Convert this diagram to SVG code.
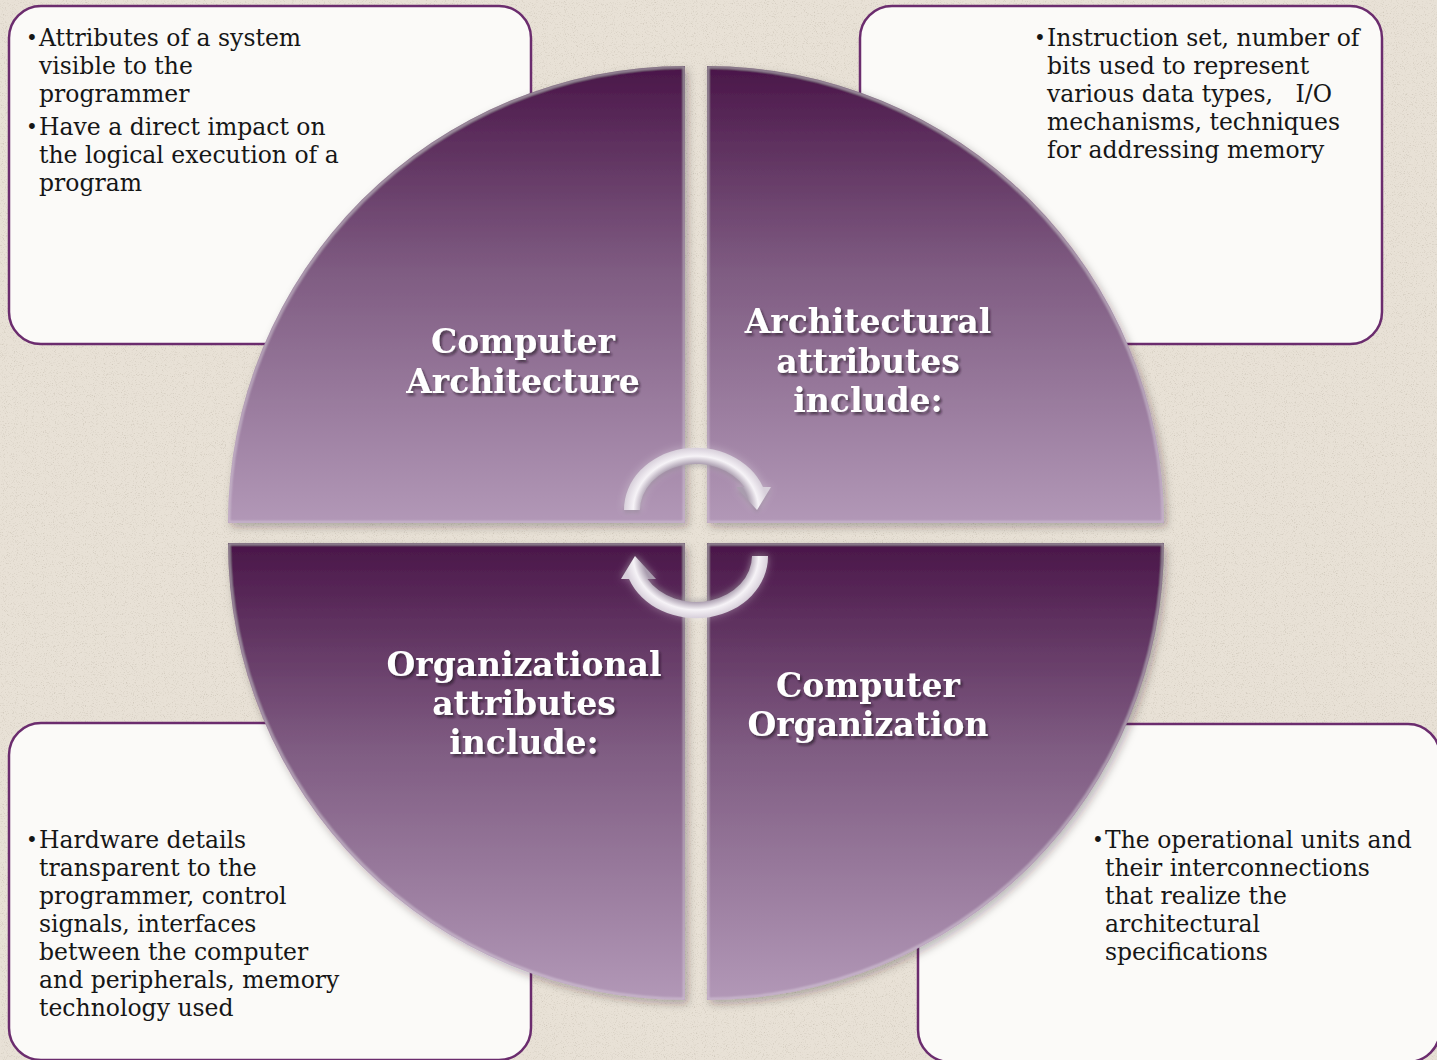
<svg xmlns="http://www.w3.org/2000/svg" width="1437" height="1060" viewBox="0 0 1437 1060">
<style>
.box{fill:#fbfaf8;stroke:#6b2c6e;stroke-width:2.5}
.body{font-family:"DejaVu Serif","Liberation Serif",serif;font-size:23.5px;fill:#161616}
.bul{font-family:"DejaVu Serif","Liberation Serif",serif;font-size:20px;fill:#161616}
.title{font-family:"DejaVu Serif","Liberation Serif",serif;font-weight:bold;font-size:33px;fill:#ffffff;text-anchor:middle;filter:url(#ts)}
.quad{filter:url(#pieFx)}
.arrow{fill:url(#arrowGrad);filter:url(#arrowFx)}
</style>
<defs>
<filter id="noise" x="0" y="0" width="100%" height="100%">
<feTurbulence type="fractalNoise" baseFrequency="0.9" numOctaves="2" seed="7" result="n"/>
<feColorMatrix in="n" type="matrix" values="0 0 0 0 0.55  0 0 0 0 0.5  0 0 0 0 0.42  3.2 0 0 0 -1.75"/>
</filter>
<linearGradient id="qGrad" x1="0" y1="0" x2="0" y2="1">
<stop offset="0" stop-color="#4a1649"/>
<stop offset="0.45" stop-color="#7f5c82"/>
<stop offset="1" stop-color="#b298b7"/>
</linearGradient>
<filter id="pieFx" x="-10%" y="-10%" width="125%" height="125%">
<feGaussianBlur in="SourceAlpha" stdDeviation="4" result="blur"/>
<feOffset in="blur" dx="3" dy="4" result="ob"/>
<feFlood flood-color="#2a1a20" flood-opacity="0.3"/>
<feComposite in2="ob" operator="in" result="shadow"/>
<feMorphology in="SourceAlpha" operator="erode" radius="2" result="er"/>
<feComposite in="SourceAlpha" in2="er" operator="out" result="rim"/>
<feGaussianBlur in="rim" stdDeviation="1" result="rimb"/>
<feFlood flood-color="#f6eef8" flood-opacity="0.35"/>
<feComposite in2="rimb" operator="in" result="hl"/>
<feComposite in="hl" in2="SourceAlpha" operator="in" result="hl2"/>
<feMerge><feMergeNode in="shadow"/><feMergeNode in="SourceGraphic"/><feMergeNode in="hl2"/></feMerge>
</filter>
<filter id="ts" x="-10%" y="-30%" width="120%" height="160%">
<feDropShadow dx="2" dy="2.5" stdDeviation="1.2" flood-color="#1a0a1a" flood-opacity="0.6"/>
</filter>
<radialGradient id="arrowGrad" gradientUnits="userSpaceOnUse" cx="0" cy="0" r="72" gradientTransform="translate(696 510) scale(1 0.86)">
<stop offset="0.74" stop-color="#a99cae"/>
<stop offset="0.87" stop-color="#f6f3f7"/>
<stop offset="1" stop-color="#d8d0db"/>
</radialGradient>
<filter id="arrowFx" x="-20%" y="-20%" width="140%" height="150%">
<feGaussianBlur in="SourceAlpha" stdDeviation="4" result="b"/>
<feFlood flood-color="#ffffff" flood-opacity="0.35"/>
<feComposite in2="b" operator="in" result="glow"/>
<feGaussianBlur in="SourceAlpha" stdDeviation="2" result="b2"/>
<feOffset in="b2" dx="0" dy="3" result="o2"/>
<feFlood flood-color="#2a1430" flood-opacity="0.3"/>
<feComposite in2="o2" operator="in" result="sh"/>
<feMerge><feMergeNode in="glow"/><feMergeNode in="sh"/><feMergeNode in="SourceGraphic"/></feMerge>
</filter>
<path id="arc" d="M624,510 A72,62 0 0 1 763,487 L771,487 L757,510 L736,487 L744.5,487 A56,46 0 0 0 640,510 Z"/>
</defs>

<rect width="1437" height="1060" fill="#e8e1d6"/>
<rect width="1437" height="1060" filter="url(#noise)" opacity="0.6"/>

<g id="box-tl">
<rect class="box" x="9" y="6" width="522" height="338" rx="32"/>
<text class="bul" x="26" y="45">•</text>
<text class="body" x="39" y="46">Attributes of a system</text>
<text class="body" x="39" y="74">visible to the</text>
<text class="body" x="39" y="102">programmer</text>
<text class="bul" x="26" y="134">•</text>
<text class="body" x="39" y="135">Have a direct impact on</text>
<text class="body" x="39" y="163">the logical execution of a</text>
<text class="body" x="39" y="191">program</text>
</g>

<g id="box-tr">
<rect class="box" x="860" y="6" width="522" height="338" rx="32"/>
<text class="bul" x="1034" y="45">•</text>
<text class="body" x="1047" y="46">Instruction set, number of</text>
<text class="body" x="1047" y="74">bits used to represent</text>
<text class="body" x="1047" y="102" xml:space="preserve">various data types,   I/O</text>
<text class="body" x="1047" y="130">mechanisms, techniques</text>
<text class="body" x="1047" y="158">for addressing memory</text>
</g>

<g id="box-bl">
<rect class="box" x="9" y="723" width="522" height="337" rx="32"/>
<text class="bul" x="26" y="847">•</text>
<text class="body" x="39" y="848">Hardware details</text>
<text class="body" x="39" y="876">transparent to the</text>
<text class="body" x="39" y="904">programmer, control</text>
<text class="body" x="39" y="932">signals, interfaces</text>
<text class="body" x="39" y="960">between the computer</text>
<text class="body" x="39" y="988">and peripherals, memory</text>
<text class="body" x="39" y="1016">technology used</text>
</g>

<g id="box-br">
<rect class="box" x="918" y="724" width="522" height="338" rx="32"/>
<text class="bul" x="1092" y="847">•</text>
<text class="body" x="1105" y="848">The operational units and</text>
<text class="body" x="1105" y="876">their interconnections</text>
<text class="body" x="1105" y="904">that realize the</text>
<text class="body" x="1105" y="932">architectural</text>
<text class="body" x="1105" y="960">specifications</text>
</g>

<g id="quad-tl">
<path class="quad" d="M685,523 L228,523 A457,457 0 0 1 685,66 Z" fill="url(#qGrad)"/>
<text class="title" x="523" y="353">Computer</text>
<text class="title" x="523" y="393">Architecture</text>
</g>

<g id="quad-tr">
<path class="quad" d="M707,523 L707,66 A457,457 0 0 1 1164,523 Z" fill="url(#qGrad)"/>
<text class="title" x="868" y="333">Architectural</text>
<text class="title" x="868" y="373">attributes</text>
<text class="title" x="868" y="412">include:</text>
</g>

<g id="quad-bl">
<path class="quad" d="M685,543 L685,1000 A457,457 0 0 1 228,543 Z" fill="url(#qGrad)"/>
<text class="title" x="524" y="676">Organizational</text>
<text class="title" x="524" y="715">attributes</text>
<text class="title" x="524" y="754">include:</text>
</g>

<g id="quad-br">
<path class="quad" d="M707,543 L1164,543 A457,457 0 0 1 707,1000 Z" fill="url(#qGrad)"/>
<text class="title" x="868" y="697">Computer</text>
<text class="title" x="868" y="736">Organization</text>
</g>

<g id="connectors">
<use href="#arc" class="arrow"/>
<use href="#arc" class="arrow" transform="rotate(180 696 533)"/>
</g>
</svg>
